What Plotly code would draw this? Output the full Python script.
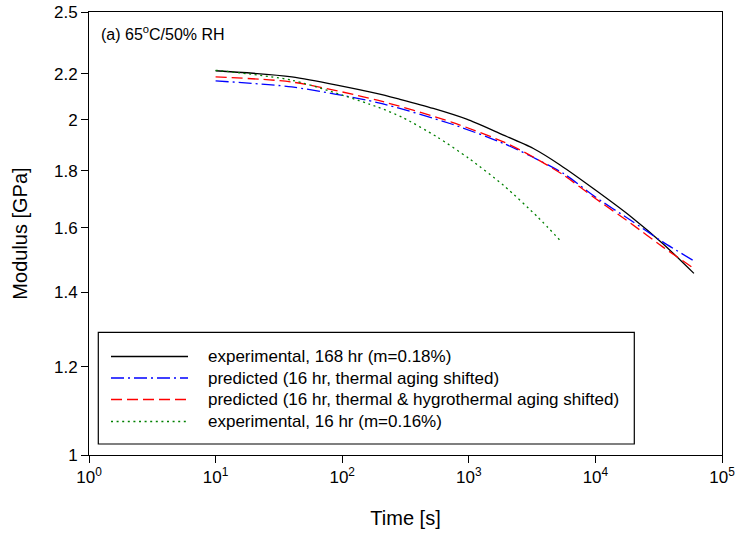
import plotly.graph_objects as go
import math

# ---------------- data ----------------
t_black = [10, 40, 190, 286, 524, 962, 1766, 3236, 5260, 10000, 19000, 34000, 60000]
m_black = [2.214, 2.186, 2.112, 2.087, 2.048, 2.003, 1.944, 1.885, 1.822, 1.730, 1.638, 1.549, 1.456]

t_pred = [10, 40, 190, 740, 1900, 3100, 5600, 10000, 19000, 34000, 60000]
m_blue = [2.168, 2.141, 2.073, 1.982, 1.904, 1.855, 1.790, 1.705, 1.625, 1.554, 1.494]
m_red = [2.186, 2.163, 2.083, 1.990, 1.910, 1.857, 1.784, 1.700, 1.615, 1.538, 1.471]

t_green = [10, 40, 190, 300, 560, 1000, 1900, 3500, 5400]
m_green = [2.216, 2.171, 2.054, 2.010, 1.931, 1.847, 1.745, 1.636, 1.554]

series_names = [
    "experimental, 168 hr (m=0.18%)",
    "predicted (16 hr, thermal aging shifted)",
    "predicted (16 hr, thermal & hygrothermal aging shifted)",
    "experimental, 16 hr (m=0.16%)",
]

x_tickvals = [1, 10, 100, 1000, 10000, 100000]
x_ticktext = ["10<sup>0</sup>", "10<sup>1</sup>", "10<sup>2</sup>", "10<sup>3</sup>", "10<sup>4</sup>", "10<sup>5</sup>"]
y_tickvals = [1, 1.2, 1.4, 1.6, 1.8, 2, 2.2, 2.5]
y_ticktext = ["1", "1.2", "1.4", "1.6", "1.8", "2", "2.2", "2.5"]

# ---------------- styles ----------------
FONT = "Liberation Sans, Arial, sans-serif"
styles = [
    dict(color="#000000", dash="solid"),
    dict(color="#0000FF", dash="13px,4px,2px,4px"),
    dict(color="#FF0000", dash="11px,5px"),
    dict(color="#008000", dash="2px,3.6px"),
]
xs = [t_black, t_pred, t_pred, t_green]
ys = [m_black, m_blue, m_red, m_green]

fig = go.Figure()
for x, y, nm, st in zip(xs, ys, series_names, styles):
    fig.add_trace(go.Scatter(
        x=x, y=y, mode="lines", name=nm, showlegend=False,
        line=dict(color=st["color"], dash=st["dash"], width=1.3, shape="spline", smoothing=0.7),
    ))

# ---------------- manual legend (to reproduce long line samples) ----------------
L, R, T, B = 89, 722, 12, 455
W, H = R - L, B - T
def px(xp):
    return (xp - L) / W
def py(yp):
    return (B - yp) / H

shapes = [dict(type="rect", xref="paper", yref="paper",
               x0=px(98.3), x1=px(634.3), y0=py(444), y1=py(332.3),
               line=dict(color="black", width=1.2), fillcolor="white", layer="above")]
row_y = [356.5, 378, 399.5, 421.5]
annotations = []
for i, (nm, st) in enumerate(zip(series_names, styles)):
    shapes.append(dict(type="line", xref="paper", yref="paper",
                       x0=px(111), x1=px(188), y0=py(row_y[i]), y1=py(row_y[i]),
                       line=dict(color=st["color"], dash=st["dash"], width=1.3), layer="above"))
    annotations.append(dict(xref="paper", yref="paper", x=px(206), y=py(row_y[i]),
                            text=nm, showarrow=False, xanchor="left", yanchor="middle",
                            font=dict(family=FONT, size=17, color="black")))

annotations.append(dict(xref="paper", yref="paper", x=px(99), y=py(33),
                        text="(a) 65<sup>o</sup>C/50% RH", showarrow=False,
                        xanchor="left", yanchor="middle",
                        font=dict(family=FONT, size=16, color="black")))

axis_common = dict(showline=True, linecolor="black", linewidth=1, mirror=True,
                   ticks="outside", ticklen=7, tickwidth=1, tickcolor="black",
                   showgrid=False, zeroline=False, automargin=False,
                   tickfont=dict(family=FONT, size=17, color="black"))

fig.update_layout(
    width=737, height=537,
    margin=dict(l=L, r=737 - R, t=T, b=537 - B),
    paper_bgcolor="white", plot_bgcolor="white",
    font=dict(family=FONT, color="black"),
    xaxis=dict(type="log", range=[0, 5], tickmode="array",
               tickvals=x_tickvals, ticktext=x_ticktext,
               title=dict(text="Time [s]", font=dict(family=FONT, size=20), standoff=24),
               **axis_common),
    yaxis=dict(type="log", range=[0, math.log10(2.5)], tickmode="array",
               tickvals=y_tickvals, ticktext=y_ticktext,
               title=dict(text="Modulus [GPa]", font=dict(family=FONT, size=20), standoff=20),
               **axis_common),
    shapes=shapes,
    annotations=annotations,
    showlegend=False,
)

fig.write_html("out.html")
